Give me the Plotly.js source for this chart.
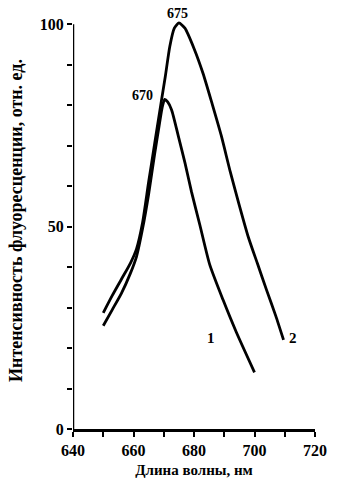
<!DOCTYPE html>
<html>
<head>
<meta charset="utf-8">
<script src="https://cdn.plot.ly/plotly-3.0.1.min.js"></script>
<style>html,body{margin:0;padding:0;background:#fff;}#chart{width:346px;height:478px;}</style>
</head>
<body>
<div id="chart"></div>
<script>
// Curve 1 (peak 670 nm)
var wl1 = [650, 653, 656, 659, 661, 663, 665, 667, 668.5, 669.5, 670.3, 671.3, 672.6, 674.8, 677, 679.2, 682, 685.2, 689.6, 694, 700];
var int1 = [25.5, 29.5, 33.5, 38.5, 42.6, 49.5, 58, 68, 75, 79.5, 81.4, 80.8, 78.8, 72.4, 65.8, 58.5, 50.2, 40.6, 31.9, 23.9, 14];
// Curve 2 (peak 675 nm)
var wl2 = [650, 653, 656, 659, 661, 663, 665, 667, 669, 670.5, 672, 673.5, 675, 677, 680, 683, 686, 689, 692, 695, 698, 701, 704, 707, 709.6];
var int2 = [28.7, 33, 37, 41, 44.5, 51, 61, 70.5, 80, 87, 94.5, 99, 100.3, 99, 94, 87.8, 80.3, 72.5, 63.5, 55.2, 47.3, 40.8, 34.3, 28, 22];

var xTicks = [640, 650, 660, 670, 680, 690, 700, 710, 720];
var xTickText = ['640', '', '660', '', '680', '', '700', '', '720'];
var yTicks = [0, 10, 20, 30, 40, 50, 60, 70, 80, 90, 100];
var yTickText = ['0', '', '', '', '', '50', '', '', '', '', '100'];

var peakLabels = ['675', '670'];
var peakX = [674.7, 663];
var peakY = [102.6, 82.5];
var curveLabels = ['1', '2'];
var curveLabelX = [685.5, 712.6];
var curveLabelY = [22.5, 22.5];

var fam = 'Liberation Serif, Times New Roman, serif';
function bold(arr) { return arr.map(function (t) { return t ? '<b>' + t + '</b>' : ''; }); }

var lineStyle = {color: '#000', width: 2.8, shape: 'spline', smoothing: 0.6};
var traces = [
  {x: wl1, y: int1, mode: 'lines', line: lineStyle, hoverinfo: 'skip'},
  {x: wl2, y: int2, mode: 'lines', line: lineStyle, hoverinfo: 'skip'}
];

var annotations = [];
for (var i = 0; i < peakLabels.length; i++) {
  annotations.push({x: peakX[i], y: peakY[i], xref: 'x', yref: 'y', text: '<b>' + peakLabels[i] + '</b>', showarrow: false,
    font: {family: fam, size: 14, color: '#000'}});
}
for (var j = 0; j < curveLabels.length; j++) {
  annotations.push({x: curveLabelX[j], y: curveLabelY[j], xref: 'x', yref: 'y', text: '<b>' + curveLabels[j] + '</b>', showarrow: false,
    font: {family: fam, size: 15, color: '#000'}});
}

var layout = {
  width: 346, height: 478,
  margin: {l: 73, r: 31, t: 12.4, b: 49},
  paper_bgcolor: '#fff', plot_bgcolor: '#fff',
  showlegend: false,
  font: {family: fam, color: '#000', size: 16},
  xaxis: {
    range: [640, 720], tickmode: 'array', tickvals: xTicks, ticktext: bold(xTickText),
    ticks: 'outside', ticklen: 5, tickwidth: 2, tickcolor: '#000',
    showline: true, linewidth: 2.5, linecolor: '#000', showgrid: false, zeroline: false,
    tickfont: {family: fam, size: 16, color: '#000'},
    title: {text: '<b>Длина волны, нм</b>', font: {family: fam, size: 15, color: '#000'}, standoff: 14}
  },
  yaxis: {
    range: [0, 103], tickmode: 'array', tickvals: yTicks, ticktext: bold(yTickText),
    ticks: 'outside', ticklen: 5, tickwidth: 2, tickcolor: '#000',
    showline: false, showgrid: false, zeroline: false,
    tickfont: {family: fam, size: 16, color: '#000'},
    title: {text: '<b>Интенсивность флуоресценции, отн. ед.</b>', font: {family: fam, size: 18, color: '#000'}, standoff: 12}
  },
  shapes: [
    {type: 'line', xref: 'x', yref: 'y', x0: xTicks[0], x1: xTicks[0], y0: yTicks[0], y1: yTicks[yTicks.length - 1],
     line: {color: '#000', width: 2.5}}
  ],
  annotations: annotations
};

Plotly.newPlot('chart', traces, layout, {staticPlot: true, displayModeBar: false});
</script>
</body>
</html>
